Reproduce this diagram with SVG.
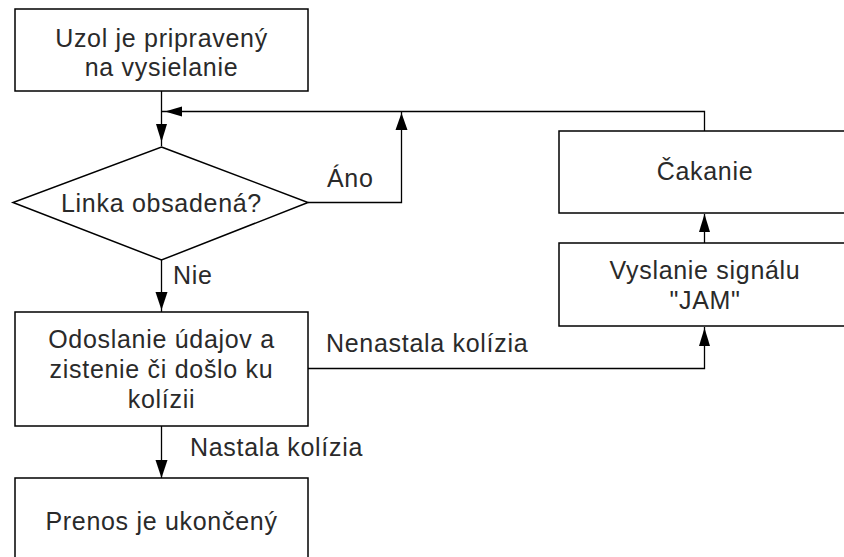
<svg xmlns="http://www.w3.org/2000/svg" width="844" height="557" viewBox="0 0 844 557">
  <style>
    .box { fill: #fff; stroke: #000; stroke-width: 1.5; }
    .wire { fill: none; stroke: #000; stroke-width: 1.3; }
    .head { fill: #000; stroke: none; }
    text { font-family: "Liberation Sans", Arial, sans-serif; font-size: 25px; letter-spacing: 0.7px; fill: #2a2a2a; }
    .c { text-anchor: middle; }
  </style>
  <rect width="844" height="557" fill="#fff"/>

  <!-- connectors -->
  <g id="connectors">
    <!-- start -> decision -->
    <path class="wire" d="M161.5 91 V146"/>
    <polygon class="head" points="156,124 167,124 161.5,142"/>
    <!-- loop back from waiting box -->
    <path class="wire" d="M704.5 131 V111.5 H161.5"/>
    <polygon class="head" points="165,111.5 182,106.5 182,116.5"/>
    <!-- Áno branch -->
    <path class="wire" d="M308 202.5 H401.5 V112"/>
    <polygon class="head" points="401.5,113 395.5,130 407.5,130"/>
    <text x="327" y="187">Áno</text>
    <!-- Nie branch -->
    <path class="wire" d="M161.5 260 V312"/>
    <polygon class="head" points="155.5,292 167.5,292 161.5,310"/>
    <text x="173" y="284">Nie</text>
    <!-- Nastala kolízia -->
    <path class="wire" d="M161.5 426 V478"/>
    <polygon class="head" points="155.5,460 167.5,460 161.5,478"/>
    <text x="190" y="456">Nastala kolízia</text>
    <!-- Nenastala kolízia -->
    <path class="wire" d="M308 368.5 H704.5 V327"/>
    <polygon class="head" points="704.5,328 699,346 710,346"/>
    <text x="326" y="352">Nenastala kolízia</text>
    <!-- JAM -> waiting -->
    <path class="wire" d="M704.5 243 V214"/>
    <polygon class="head" points="704.5,214 699,232 710,232"/>
  </g>

  <g id="start">
    <rect class="box" x="15" y="9" width="293" height="82"/>
    <text class="c" x="161.5" y="47">Uzol je pripravený</text>
    <text class="c" x="161.5" y="76">na vysielanie</text>
  </g>

  <g id="decision">
    <polygon class="box" points="161.5,147 308,202.5 161.5,260 13,202.5"/>
    <text class="c" x="161.5" y="212">Linka obsadená?</text>
  </g>

  <g id="send">
    <rect class="box" x="15" y="312" width="293" height="114"/>
    <text class="c" x="161.5" y="348">Odoslanie údajov a</text>
    <text class="c" x="161.5" y="378">zistenie či došlo ku</text>
    <text class="c" x="161.5" y="408">kolízii</text>
  </g>

  <g id="done">
    <rect class="box" x="15" y="478" width="293" height="100"/>
    <text class="c" x="161.5" y="530">Prenos je ukončený</text>
  </g>

  <g id="wait">
    <rect class="box" x="559" y="131" width="320" height="82"/>
    <text class="c" x="705" y="180">Čakanie</text>
  </g>

  <g id="jam">
    <rect class="box" x="559" y="243" width="320" height="83"/>
    <text class="c" x="705" y="279">Vyslanie signálu</text>
    <text class="c" x="705" y="309">"JAM"</text>
  </g>
</svg>
